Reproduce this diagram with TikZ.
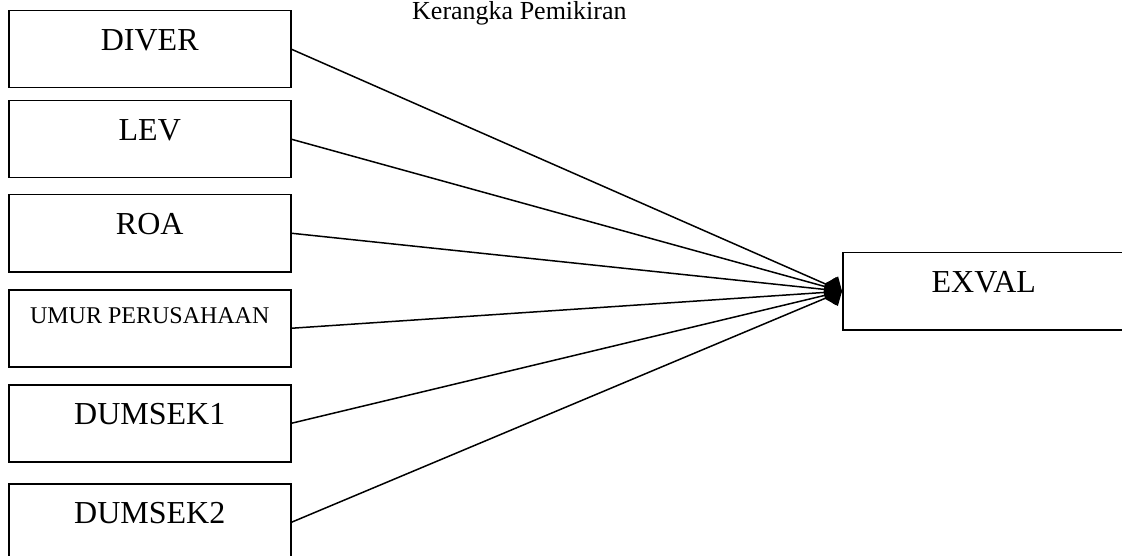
\documentclass[tikz,border=0pt]{standalone}
\usepackage{fontspec}
\setmainfont{Liberation Serif}
\usetikzlibrary{arrows.meta}
\tikzset{
  varbox/.style={draw, line width=1.5pt, inner sep=0pt, minimum width=282pt,
    text height=40pt, text depth=37pt, anchor=north west,
    font=\fontsize{32}{38}\selectfont},
  smallbox/.style={varbox, text height=34pt, text depth=43pt,
    font=\fontsize{24}{28}\selectfont},
  link/.style={line width=1.5pt, -{Diamond[length=19pt, width=24pt]}},
  title/.style={anchor=base west, inner sep=0pt, font=\fontsize{26}{30}\selectfont}
}
\begin{document}
\begin{tikzpicture}[x=1pt, y=-1pt]
\useasboundingbox (0,0) rectangle (1122,556);
\clip (0,0) rectangle (1122,556);
\node[title] (t) at (412,20) {Kerangka Pemikiran};
\node[varbox] (diver) at (8,10) {DIVER};
\node[varbox] (lev) at (8,100) {LEV};
\node[varbox] (roa) at (8,194) {ROA};
\node[smallbox] (umur) at (8,289) {UMUR PERUSAHAAN};
\node[varbox] (d1) at (8,384) {DUMSEK1};
\node[varbox] (d2) at (8,483) {DUMSEK2};
\node[varbox] (ex) at (842,252) {EXVAL};
\foreach \n in {diver,lev,roa,umur,d1,d2}
  \draw[link] (\n.east) -- (ex.west);
\end{tikzpicture}
\end{document}
